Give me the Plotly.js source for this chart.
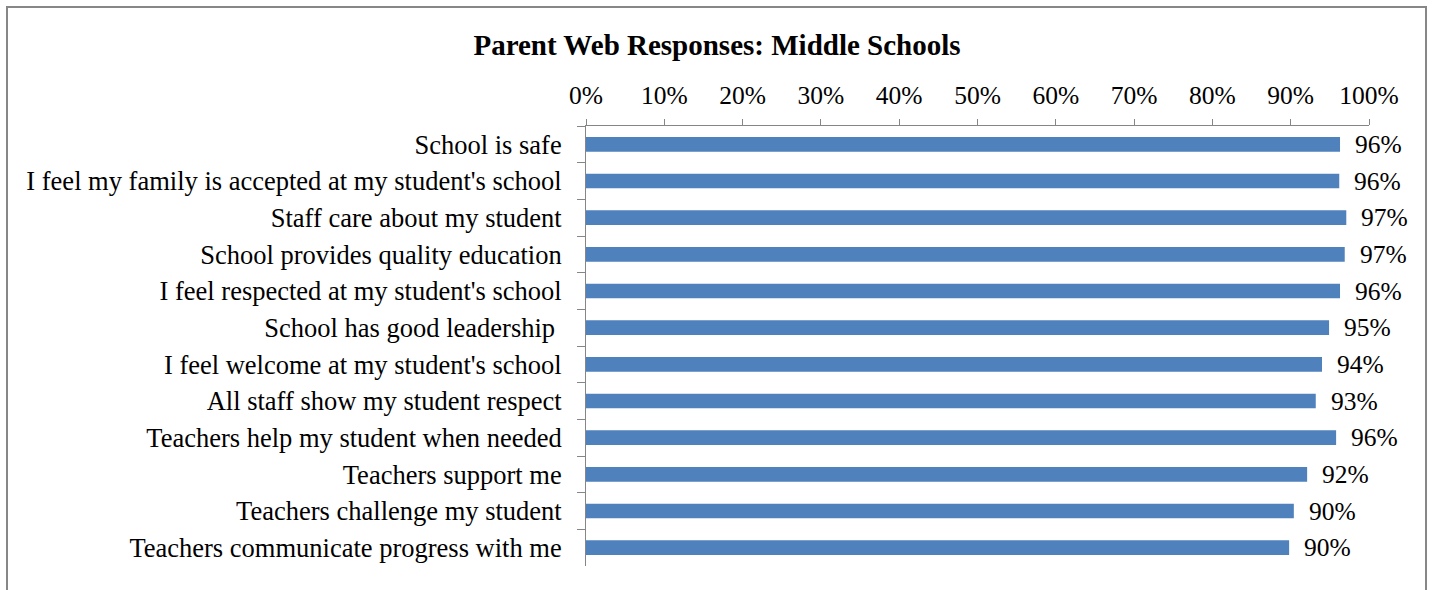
<!DOCTYPE html>
<html>
<head>
<meta charset="utf-8">
<script src="https://cdn.plot.ly/plotly-3.0.1.min.js"></script>
<style>
  html, body { margin:0; padding:0; background:#fff; }
  #frame { position:absolute; left:6px; top:6px; width:1421px; height:640px; border:2px solid #878787; box-sizing:border-box; }
  #chart { position:absolute; left:0; top:0; width:1434px; height:590px; }
</style>
</head>
<body>
<div id="frame"></div>
<div id="chart"></div>
<script>
const categories = [
  "School is safe",
  "I feel my family is accepted at my student's school",
  "Staff care about my student",
  "School provides quality education",
  "I feel respected at my student's school",
  "School has good leadership ",
  "I feel welcome at my student's school",
  "All staff show my student respect",
  "Teachers help my student when needed",
  "Teachers support me",
  "Teachers challenge my student",
  "Teachers communicate progress with me"
];
const values = [0.963, 0.962, 0.971, 0.969, 0.963, 0.949, 0.940, 0.932, 0.958, 0.921, 0.904, 0.898];
const valueLabels = ["96%", "96%", "97%", "97%", "96%", "95%", "94%", "93%", "96%", "92%", "90%", "90%"];
const xTickVals = [0, 0.1, 0.2, 0.3, 0.4, 0.5, 0.6, 0.7, 0.8, 0.9, 1.0];
const xTickText = ["0%", "10%", "20%", "30%", "40%", "50%", "60%", "70%", "80%", "90%", "100%"];

const fam = "Liberation Serif, Times New Roman, serif";
const catFont = {family: fam, size: 26.5, color: "#000"};
const tickFont = {family: fam, size: 25.5, color: "#000"};

const trace = {
  type: "bar",
  orientation: "h",
  y: categories,
  x: values,
  marker: {color: "#4F81BD", line: {width: 0}},
  hoverinfo: "none"
};

const annotations = categories.map((c, i) => ({
  x: values[i], y: c, xref: "x", yref: "y",
  text: valueLabels[i], showarrow: false,
  xanchor: "left", yanchor: "middle", xshift: 13,
  font: tickFont
}));

const layout = {
  width: 1434, height: 590,
  paper_bgcolor: "rgba(0,0,0,0)", plot_bgcolor: "rgba(0,0,0,0)",
  margin: {l: 586, r: 65, t: 126, b: 24},
  bargap: 0.6,
  showlegend: false,
  title: {text: "<b>Parent Web Responses: Middle Schools</b>", font: {family: fam, size: 29, color: "#000"},
          x: 0.5, xref: "container", xanchor: "center", y: 1 - 45/590, yref: "container", yanchor: "middle"},
  xaxis: {
    side: "top", range: [0, 1], tickvals: xTickVals, ticktext: xTickText,
    showgrid: false, zeroline: false, showline: true, linecolor: "#868686", linewidth: 1,
    ticks: "outside", ticklen: 6, tickcolor: "#868686", tickwidth: 1,
    tickfont: tickFont, ticklabelstandoff: 5, fixedrange: true
  },
  yaxis: {
    autorange: "reversed", type: "category",
    showgrid: false, zeroline: false, showline: true, linecolor: "#868686", linewidth: 1,
    ticks: "outside", ticklen: 8, tickcolor: "#868686", tickwidth: 1, tickson: "boundaries",
    tickfont: catFont, ticklabelstandoff: 18, fixedrange: true
  },
  annotations: annotations
};

Plotly.newPlot("chart", [trace], layout, {displayModeBar: false, staticPlot: true});
</script>
</body>
</html>
